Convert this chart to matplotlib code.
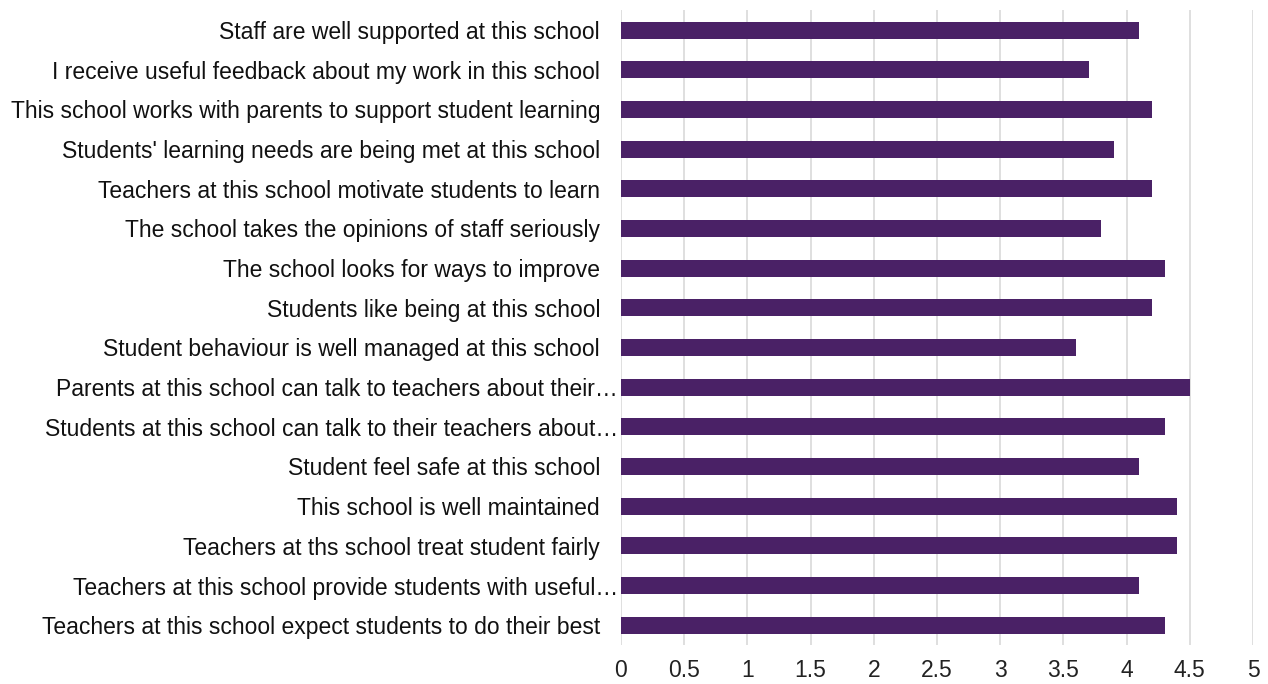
import numpy as np
import matplotlib
matplotlib.use("Agg")
import matplotlib.pyplot as plt
import matplotlib.transforms as mtransforms

# Datos (de arriba hacia abajo, como en la imagen)
preguntas = [
    "Staff are well supported at this school",
    "I receive useful feedback about my work in this school",
    "This school works with parents to support student learning",
    "Students' learning needs are being met at this school",
    "Teachers at this school motivate students to learn",
    "The school takes the opinions of staff seriously",
    "The school looks for ways to improve",
    "Students like being at this school",
    "Student behaviour is well managed at this school",
    "Parents at this school can talk to teachers about their\u2026",
    "Students at this school can talk to their teachers about\u2026",
    "Student feel safe at this school",
    "This school is well maintained",
    "Teachers at ths school treat student fairly",
    "Teachers at this school provide students with useful\u2026",
    "Teachers at this school expect students to do their best",
]
valores = [4.1, 3.7, 4.2, 3.9, 4.2, 3.8, 4.3, 4.2, 3.6, 4.5, 4.3, 4.1, 4.4, 4.4, 4.1, 4.3]
ticks_x = [0, 0.5, 1, 1.5, 2, 2.5, 3, 3.5, 4, 4.5, 5]
etiquetas_x = ["0", "0.5", "1", "1.5", "2", "2.5", "3", "3.5", "4", "4.5", "5"]

plt.rcParams['font.family'] = ['Liberation Sans', 'DejaVu Sans']

fig = plt.figure(figsize=(12.68, 6.84), dpi=100)
ax = fig.add_axes([0.4897, 0.057, 0.4985, 0.928])

# posiciones: la primera pregunta arriba
pos = np.arange(len(preguntas))[::-1]
ax.barh(pos, valores, height=0.43, color="#4a2166", zorder=3)

ax.set_xlim(0, 5)
ax.set_ylim(-0.5, len(preguntas) - 0.5)
ax.set_xticks(ticks_x)
ax.set_xticklabels(etiquetas_x, fontsize=16.5, color="#222222")
ax.set_yticks(pos)
ax.set_yticklabels(preguntas, fontsize=16.5, color="#111111")

ax.grid(axis="x", color="#d9d9d9", linewidth=1.2, zorder=0)
ax.tick_params(axis="both", length=0)
ax.tick_params(axis="y", pad=15)
ax.tick_params(axis="x", pad=10)
for lado in ["top", "right", "bottom", "left"]:
    ax.spines[lado].set_visible(False)

# las etiquetas recortadas llegan casi hasta la barra
corrimiento = mtransforms.ScaledTranslation(0.18, 0, fig.dpi_scale_trans)
for lab in ax.get_yticklabels():
    if lab.get_text().endswith("\u2026"):
        lab.set_transform(lab.get_transform() + corrimiento)

fig.savefig("out.png", dpi=100)
